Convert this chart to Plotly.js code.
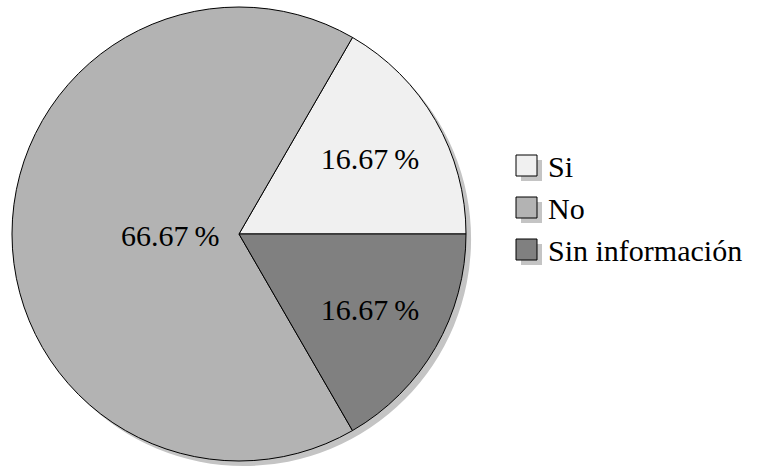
<!DOCTYPE html>
<html>
<head>
<meta charset="utf-8">
<script src="https://cdn.plot.ly/plotly-3.0.1.min.js"></script>
<style>html,body{margin:0;padding:0;background:#fff;}</style>
</head>
<body>
<div id="chart" style="width:760px;height:468px;"></div>
<script>
const labels = ["Si", "No", "Sin información"];
const counts = [1, 4, 1];
const colors = ["#f0f0f0", "#b3b3b3", "#808080"];

const total = counts.reduce((a, b) => a + b, 0);
const pctText = counts.map(v => (v / total * 100).toFixed(2) + "\u2009%");

const W = 760, H = 468;
const FONT = "'Liberation Serif', 'Times New Roman', 'DejaVu Serif', serif";
const fx = p => p / W;
const fy = p => 1 - p / H;
const CX = 239, CY = 234, R = 227;

// Large slices get their label closer to the centre (as in the reference)
const isBig = counts.map(v => v / total > 0.5);
const pieText = pctText.map((t, i) => isBig[i] ? "" : t);

const shadow = {
  type: "pie",
  values: [1],
  labels: ["shadow"],
  marker: {colors: ["#c4c4c4"], line: {width: 0}},
  textinfo: "none",
  hoverinfo: "skip",
  showlegend: false,
  sort: false,
  domain: {x: [fx(CX - R + 5), fx(CX + R + 5)], y: [fy(CY + R + 5), fy(CY - R + 5)]}
};

const pie = {
  type: "pie",
  values: counts,
  labels: labels,
  text: pieText,
  textinfo: "text",
  textposition: "inside",
  insidetextorientation: "horizontal",
  textfont: {family: FONT, size: 30, color: "#000"},
  marker: {colors: colors, line: {color: "#000", width: 1}},
  sort: false,
  direction: "counterclockwise",
  rotation: 30,
  hoverinfo: "label+percent",
  showlegend: false,
  domain: {x: [fx(CX - R), fx(CX + R)], y: [fy(CY + R), fy(CY - R)]}
};

const shapes = [];
const annotations = [];

// label for large slice(s), placed on the mid-angle of the slice
let acc = 0;
counts.forEach((v, i) => {
  const a0 = acc / total * 2 * Math.PI;
  acc += v;
  const a1 = acc / total * 2 * Math.PI;
  if (isBig[i]) {
    const mid = (a0 + a1) / 2;
    const r = 0.3 * R;
    annotations.push({xref: "paper", yref: "paper",
      x: fx(CX + r * Math.cos(mid)), y: fy(CY - r * Math.sin(mid) + 1),
      xanchor: "center", yanchor: "middle", showarrow: false, text: pctText[i],
      font: {family: FONT, size: 30, color: "#000"}});
  }
});

// Legend drawn from labels/colors
const legX = 516, legTop = 155, box = 21, step = 42, off = 5;
labels.forEach((lab, i) => {
  const t = legTop + i * step;
  shapes.push({type: "rect", xref: "paper", yref: "paper",
    x0: fx(legX + off), x1: fx(legX + off + box), y0: fy(t + off + box), y1: fy(t + off),
    fillcolor: "#c4c4c4", line: {width: 0}, layer: "above"});
  shapes.push({type: "rect", xref: "paper", yref: "paper",
    x0: fx(legX), x1: fx(legX + box), y0: fy(t + box), y1: fy(t),
    fillcolor: colors[i], line: {color: "#000", width: 1}, layer: "above"});
  annotations.push({xref: "paper", yref: "paper", x: fx(legX + box + 9), y: fy(t + box / 2 + 1),
    xanchor: "left", yanchor: "middle", showarrow: false, text: lab,
    font: {family: FONT, size: 30, color: "#000"}});
});

Plotly.newPlot("chart", [shadow, pie], {
  width: W, height: H,
  margin: {l: 0, r: 0, t: 0, b: 0},
  paper_bgcolor: "#fff",
  showlegend: false,
  shapes: shapes,
  annotations: annotations
}, {staticPlot: true});
</script>
</body>
</html>
